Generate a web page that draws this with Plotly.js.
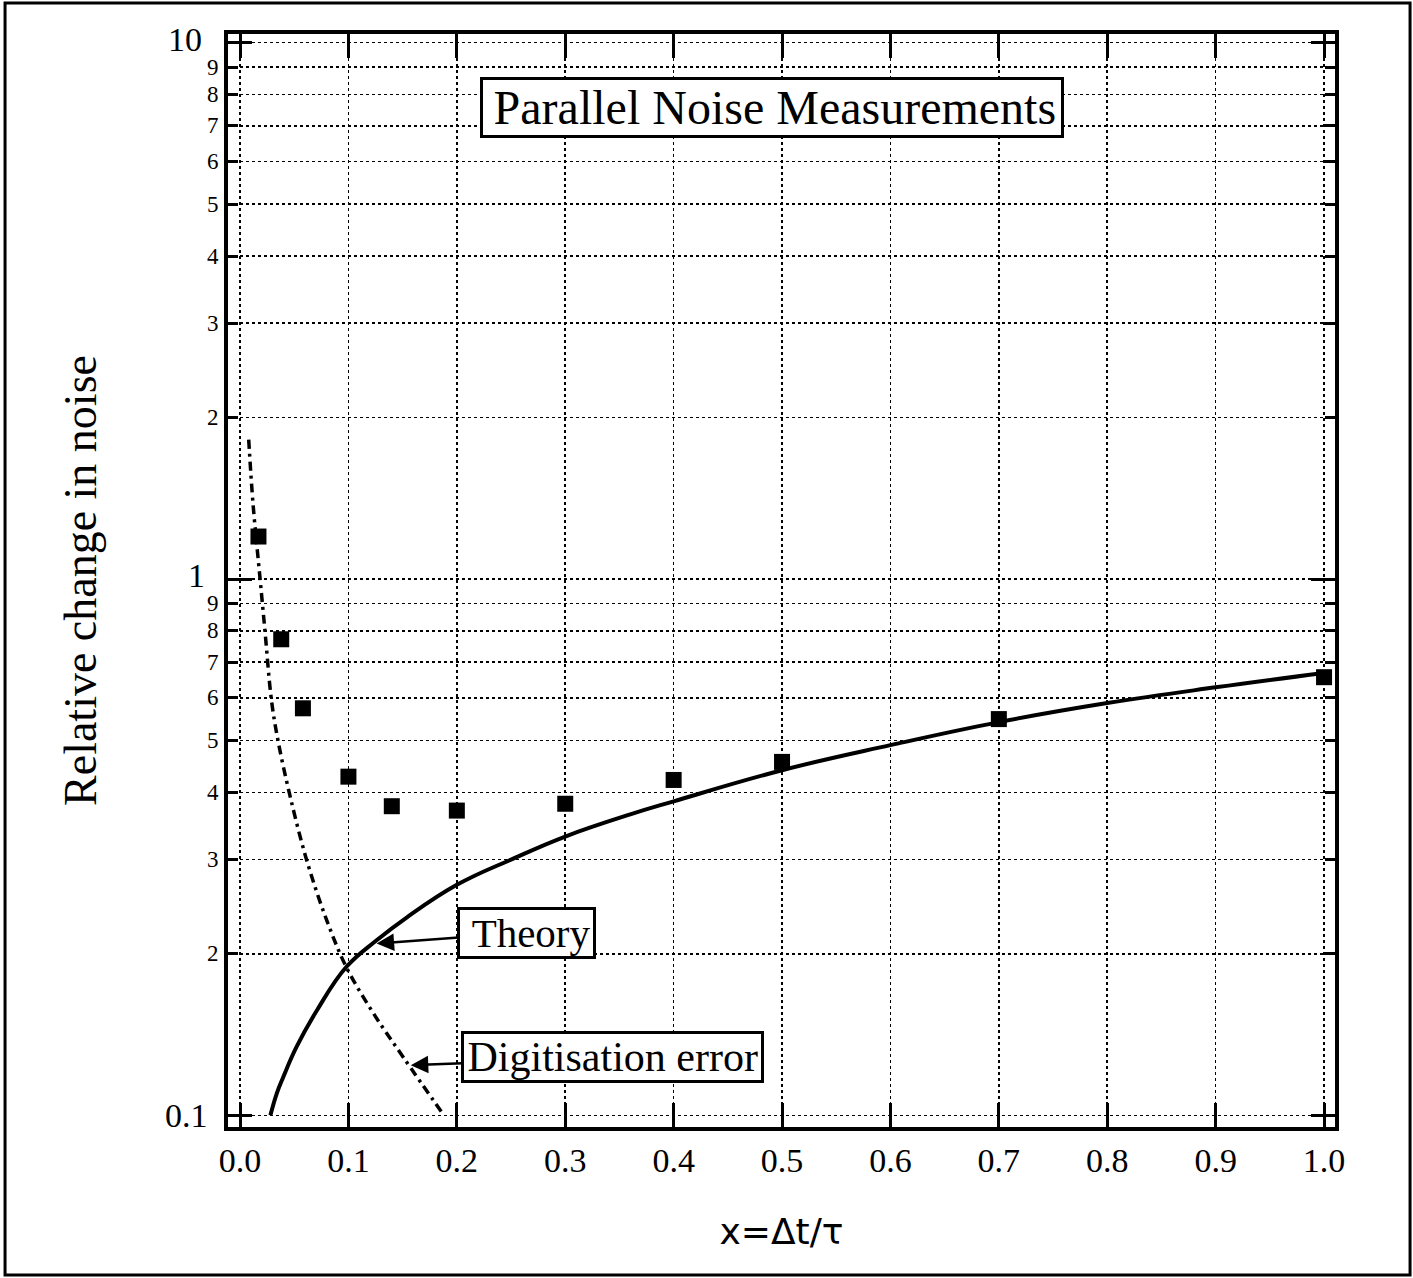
<!DOCTYPE html>
<html>
<head>
<meta charset="utf-8">
<script src="https://cdn.plot.ly/plotly-3.0.1.min.js"></script>
<style>
  html, body { margin: 0; padding: 0; background: #fff; }
  #chart { width: 1413px; height: 1278px; }
</style>
</head>
<body>
<div id="chart"></div>
<script>
// ---- data ----
const measX = [0.017, 0.038, 0.058, 0.1, 0.14, 0.2, 0.3, 0.4, 0.5, 0.7, 1.0];
const measY = [1.20, 0.772, 0.574, 0.428, 0.377, 0.370, 0.381, 0.422, 0.456, 0.548, 0.656];

const theoryX = [0.028, 0.034, 0.040, 0.052, 0.071, 0.098, 0.126, 0.154, 0.200, 0.252, 0.300, 0.360, 0.400, 0.500, 0.600, 0.700, 0.800, 0.900, 1.000];
const theoryY = [0.100, 0.110, 0.118, 0.134, 0.157, 0.189, 0.212, 0.234, 0.269, 0.301, 0.331, 0.364, 0.385, 0.440, 0.490, 0.541, 0.587, 0.628, 0.668];

const digitX = [0.008, 0.012, 0.0185, 0.023, 0.029, 0.035, 0.046, 0.0615, 0.080, 0.098, 0.123, 0.151, 0.188];
const digitY = [1.82, 1.38, 1.00, 0.80, 0.594, 0.50, 0.395, 0.299, 0.231, 0.189, 0.155, 0.128, 0.100];

// ---- ticks ----
const xTickVals = [0, 0.1, 0.2, 0.3, 0.4, 0.5, 0.6, 0.7, 0.8, 0.9, 1.0];
const xTickText = ['0.0', '0.1', '0.2', '0.3', '0.4', '0.5', '0.6', '0.7', '0.8', '0.9', '1.0'];
const yMajorVals = [0.1, 1, 10];
const yMajorText = ['0.1', '1', '10'];
const yMinorVals = [0.2, 0.3, 0.4, 0.5, 0.6, 0.7, 0.8, 0.9, 2, 3, 4, 5, 6, 7, 8, 9];
const yMinorText = ['2', '3', '4', '5', '6', '7', '8', '9', '2', '3', '4', '5', '6', '7', '8', '9'];

// ---- labels ----
const chartTitle = 'Parallel Noise Measurements';
const theoryLabel = 'Theory';
const digitLabel = 'Digitisation error';
const xTitle = 'x=\u0394t/\u03c4';
const yTitle = 'Relative change in noise';

const SERIF = 'Liberation Serif, Times New Roman, serif';
const PADL = '\u2009\u200a';
const PADR = '\u200a';

const traces = [
  {
    x: theoryX, y: theoryY, type: 'scatter', mode: 'lines', name: theoryLabel,
    line: { color: '#000', width: 4, shape: 'spline', smoothing: 1.2 },
    hoverinfo: 'x+y'
  },
  {
    x: digitX, y: digitY, type: 'scatter', mode: 'lines', name: digitLabel,
    line: { color: '#000', width: 3.5, dash: '9px,5px,3px,5px', shape: 'spline', smoothing: 1 },
    hoverinfo: 'x+y'
  },
  {
    x: measX, y: measY, type: 'scatter', mode: 'markers', name: 'Measurements',
    marker: { symbol: 'square', size: 16, color: '#000' },
    hoverinfo: 'x+y'
  }
];

const annotations = [];
// y tick labels (minor, small)
yMinorVals.forEach((v, i) => {
  annotations.push({
    xref: 'paper', yref: 'y', x: -0.007, y: Math.log10(v),
    xanchor: 'right', yanchor: 'middle', showarrow: false,
    text: yMinorText[i], font: { family: SERIF, size: 23, color: '#000' }, borderpad: 0
  });
});
// y tick labels (major, large)
const majorOffsetX = [-0.0172, -0.0199, -0.0226];
const majorShiftY = [0, 4, 3];
yMajorVals.forEach((v, i) => {
  annotations.push({
    xref: 'paper', yref: 'y', x: majorOffsetX[i], y: Math.log10(v), yshift: majorShiftY[i],
    xanchor: 'right', yanchor: 'middle', showarrow: false,
    text: yMajorText[i], font: { family: SERIF, size: 34, color: '#000' }, borderpad: 0
  });
});
// boxed title
annotations.push({
  xref: 'paper', yref: 'paper', x: 0.4914, y: 0.9332, xanchor: 'center', yanchor: 'middle',
  showarrow: false, text: '\u2009' + chartTitle + '\u200a',
  font: { family: SERIF, size: 48, color: '#000' },
  bgcolor: '#fff', bordercolor: '#000', borderwidth: 3, borderpad: 1
});
// Theory label with arrow
annotations.push({
  xref: 'x', yref: 'y', x: 0.126, y: Math.log10(0.209),
  ax: 150, ay: -11, axref: 'pixel', ayref: 'pixel',
  showarrow: true, arrowhead: 2, arrowsize: 1.4, arrowwidth: 2.5, arrowcolor: '#000', standoff: 0,
  text: PADL + theoryLabel + PADR, font: { family: SERIF, size: 41, color: '#000' },
  bgcolor: '#fff', bordercolor: '#000', borderwidth: 3, borderpad: 0
});
// Digitisation label with arrow
annotations.push({
  xref: 'x', yref: 'y', x: 0.1575, y: Math.log10(0.124),
  ax: 202, ay: -8, axref: 'pixel', ayref: 'pixel',
  showarrow: true, arrowhead: 2, arrowsize: 1.4, arrowwidth: 2.5, arrowcolor: '#000', standoff: 0,
  text: PADR + digitLabel + PADR, font: { family: SERIF, size: 42, color: '#000' },
  bgcolor: '#fff', bordercolor: '#000', borderwidth: 3, borderpad: 0
});

const layout = {
  width: 1413, height: 1278,
  margin: { l: 228, r: 78, t: 34, b: 151 },
  paper_bgcolor: '#fff', plot_bgcolor: '#fff',
  showlegend: false,
  xaxis: {
    range: [-0.0111, 1.0101], zeroline: false,
    tickmode: 'array', tickvals: xTickVals, ticktext: xTickText,
    ticks: 'inside', ticklen: 24, tickwidth: 3, tickcolor: '#000',
    showline: true, linewidth: 4, linecolor: '#000', mirror: 'ticks',
    showgrid: true, gridcolor: '#000', gridwidth: 1.6, griddash: 'dot',
    tickfont: { family: SERIF, size: 34, color: '#000' },
    title: { text: xTitle, font: { family: 'DejaVu Sans, Arial, sans-serif', size: 36, color: '#000' }, standoff: 42 }
  },
  yaxis: {
    type: 'log', range: [-1.0218, 1.0162], zeroline: false,
    tickmode: 'array', tickvals: yMajorVals, ticktext: yMajorText, showticklabels: false,
    ticks: 'inside', ticklen: 24, tickwidth: 3, tickcolor: '#000',
    showline: true, linewidth: 4, linecolor: '#000', mirror: 'ticks',
    showgrid: true, gridcolor: '#000', gridwidth: 1.6, griddash: 'dot',
    minor: {
      tickmode: 'array', tickvals: yMinorVals, ticks: 'inside', ticklen: 10, tickwidth: 3, tickcolor: '#000',
      showgrid: true, gridcolor: '#000', gridwidth: 1.6, griddash: 'dot'
    },
    title: { text: yTitle, font: { family: SERIF, size: 46, color: '#000' }, standoff: 114 }
  },
  annotations: annotations,
  shapes: [
    { type: 'rect', xref: 'paper', yref: 'paper', x0: -0.2014, x1: 1.0678, y0: -0.1354, y1: 1.0284,
      line: { color: '#000', width: 3 }, fillcolor: 'rgba(0,0,0,0)', layer: 'below' }
  ]
};

Plotly.newPlot('chart', traces, layout, { displayModeBar: false, staticPlot: true });
</script>
</body>
</html>
